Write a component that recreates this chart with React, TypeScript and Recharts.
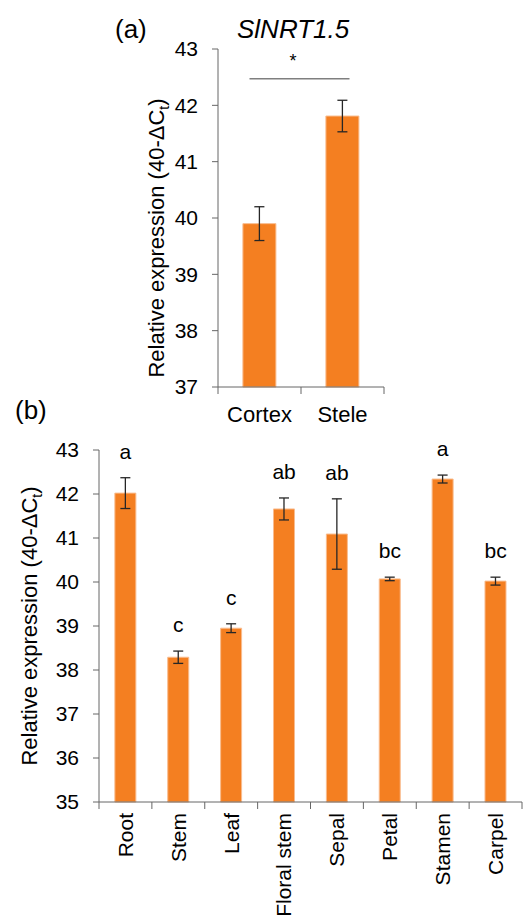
import React from "react";
import { ComposedChart, Bar, Line, XAxis, YAxis, ErrorBar, ReferenceLine } from "recharts";

// (a) root tissues
const zones = ["Cortex", "Stele"];
const zoneMeans = [39.9, 41.81];
const zoneErrors = [0.3, 0.28];
const zoneTicks = [37, 38, 39, 40, 41, 42, 43];
const sigLevel = 42.47;

// (b) organs
const organs = ["Root", "Stem", "Leaf", "Floral stem", "Sepal", "Petal", "Stamen", "Carpel"];
const organMeans = [42.02, 38.29, 38.95, 41.66, 41.09, 40.07, 42.34, 40.02];
const organErrors = [0.35, 0.14, 0.1, 0.25, 0.8, 0.04, 0.09, 0.09];
const organLetters = ["a", "c", "c", "ab", "ab", "bc", "a", "bc"];
const organTicks = [35, 36, 37, 38, 39, 40, 41, 42, 43];

const zoneData = zones.map((name, i) => ({ name, mean: zoneMeans[i], err: zoneErrors[i] }));
const organData = organs.map((name, i) => ({
  name,
  mean: organMeans[i],
  err: organErrors[i],
  top: organMeans[i] + organErrors[i],
  letter: organLetters[i],
}));

const ORANGE = "#F47F21";
const AXIS = "#666666";
const FONT = "'Liberation Sans', Arial, sans-serif";

function CategoryTick(props: any) {
  const { x, y, payload, index, visibleTicksCount, half, rotated } = props;
  const last = index === visibleTicksCount - 1;
  return (
    <g>
      <line x1={x - half} y1={y} x2={x - half} y2={y + 7} stroke={AXIS} />
      {last && <line x1={x + half} y1={y} x2={x + half} y2={y + 7} stroke={AXIS} />}
      {rotated ? (
        <text
          x={x}
          y={y + 11}
          transform={`rotate(-90, ${x}, ${y + 11})`}
          textAnchor="end"
          dy="0.35em"
          fontSize={21}
          fill="#000"
        >
          {payload.value}
        </text>
      ) : (
        <text x={x} y={y + 19} textAnchor="middle" dy="0.71em" fontSize={22} fill="#000">
          {payload.value}
        </text>
      )}
    </g>
  );
}

function yTitle(dx: number, dy: number) {
  return (props: any) => {
    const vb = props.viewBox;
    const cx = vb.x + dx;
    const cy = vb.y + vb.height / 2 + dy;
    return (
      <text x={cx} y={cy} transform={`rotate(-90, ${cx}, ${cy})`} textAnchor="middle" fontSize={22} fill="#000">
        Relative expression (40-ΔC
        <tspan fontSize={14} dy={5}>t</tspan>
        <tspan dy={-5}>)</tspan>
      </text>
    );
  };
}

function SigBracket(props: any) {
  const { x1, y1, x2 } = props;
  const mid = (x1 + x2) / 2;
  return (
    <g>
      <line x1={x1 - 10} y1={y1} x2={x2 + 7} y2={y1} stroke="#7f7f7f" strokeWidth={1.5} />
      <text x={mid - 8} y={y1 - 12} textAnchor="middle" fontSize={18} fill="#000">
        *
      </text>
    </g>
  );
}

function PanelA() {
  return (
    <ComposedChart
      width={527}
      height={440}
      data={zoneData}
      margin={{ top: 49, right: 143, bottom: 13, left: 138 }}
      barCategoryGap="30%"
    >
      <XAxis
        dataKey="name"
        height={40}
        stroke={AXIS}
        tickSize={0}
        tickMargin={0}
        interval={0}
        tick={(p: any) => <CategoryTick {...p} half={41.5} />}
      />
      <YAxis
        width={80}
        domain={[37, 43]}
        ticks={zoneTicks}
        interval={0}
        stroke={AXIS}
        tickSize={6}
        tickMargin={14}
        tick={{ fill: "#000", fontSize: 21 }}
        label={{ content: yTitle(26, 20) }}
      />
      <Bar dataKey="mean" fill={ORANGE} stroke="#F9BC8E" strokeWidth={1} isAnimationActive={false}>
        <ErrorBar dataKey="err" width={5} stroke="#262626" strokeWidth={1.3} direction="y" isAnimationActive={false} />
      </Bar>
      <ReferenceLine
        segment={[
          { x: zones[0], y: sigLevel },
          { x: zones[1], y: sigLevel },
        ]}
        shape={(p: any) => <SigBracket {...p} />}
      />
    </ComposedChart>
  );
}

function PanelB() {
  return (
    <ComposedChart
      width={527}
      height={494}
      data={organData}
      margin={{ top: 20, right: 5, bottom: 12, left: 39 }}
      barCategoryGap="30%"
    >
      <XAxis
        dataKey="name"
        height={110}
        stroke={AXIS}
        tickSize={0}
        tickMargin={0}
        interval={0}
        tick={(p: any) => <CategoryTick {...p} half={26.4375} rotated />}
      />
      <YAxis
        width={60}
        domain={[35, 43]}
        ticks={organTicks}
        interval={0}
        stroke={AXIS}
        tickSize={6}
        tickMargin={14}
        tick={{ fill: "#000", fontSize: 21 }}
        label={{ content: yTitle(-2, 0) }}
      />
      <Bar dataKey="mean" fill={ORANGE} stroke="#F9BC8E" strokeWidth={1} isAnimationActive={false}>
        <ErrorBar dataKey="err" width={5} stroke="#262626" strokeWidth={1.3} direction="y" isAnimationActive={false} />
      </Bar>
      <Line
        dataKey="top"
        stroke="none"
        legendType="none"
        activeDot={false}
        isAnimationActive={false}
        dot={(p: any) => (
          <text key={p.index} x={p.cx} y={p.cy - 19} textAnchor="middle" fontSize={21} fill="#000">
            {p.payload.letter}
          </text>
        )}
      />
    </ComposedChart>
  );
}

export default function App() {
  return (
    <div
      style={{
        position: "absolute",
        left: 0,
        top: 0,
        width: 527,
        height: 924,
        background: "#fff",
        fontFamily: FONT,
        overflow: "hidden",
      }}
    >
      <div style={{ position: "absolute", left: 0, top: 0 }}>
        <PanelA />
      </div>
      <div style={{ position: "absolute", left: 0, top: 430 }}>
        <PanelB />
      </div>
      <svg width={527} height={924} style={{ position: "absolute", left: 0, top: 0, pointerEvents: "none" }}>
        <text x={115} y={38} fontSize={26} fill="#000">
          (a)
        </text>
        <text x={237} y={38} fontSize={26} fontStyle="italic" fill="#000">
          SlNRT1.5
        </text>
        <text x={15} y={419} fontSize={26} fill="#000">
          (b)
        </text>
      </svg>
    </div>
  );
}
